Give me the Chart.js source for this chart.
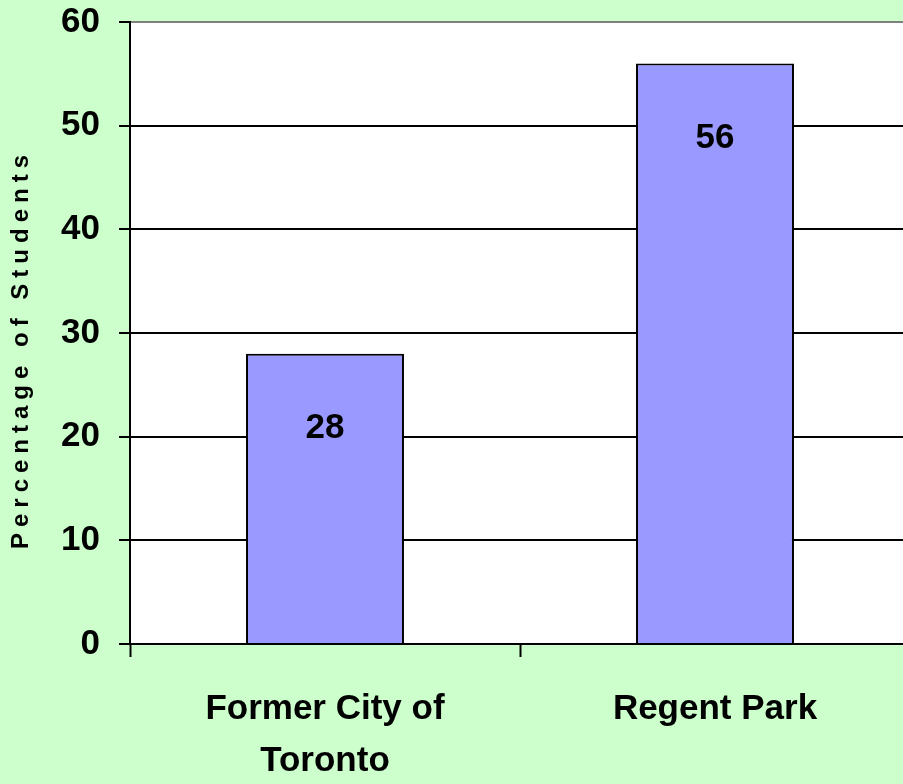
<!DOCTYPE html>
<html><head><meta charset="utf-8">
<script src="https://cdn.jsdelivr.net/npm/chart.js@4/dist/chart.umd.min.js"></script>
<style>
html,body{margin:0;padding:0;background:#CCFFCC;overflow:hidden;}
#wrap{width:920px;height:784px;}
canvas{display:block;}
</style></head><body>
<div id="wrap"><canvas id="c" width="920" height="784"></canvas></div>
<script>
const categories = [["Former City of", "Toronto"], ["Regent Park"]];
const values = [28, 56];
const yMin = 0, yMax = 60, yStep = 10;
const yTitle = "Percentage of Students";

const FONT = "'Liberation Sans', Arial, sans-serif";

const plotBackground = {
  id: 'plotBackground',
  beforeDraw(chart) {
    const { ctx, chartArea } = chart;
    ctx.save();
    ctx.fillStyle = '#FFFFFF';
    ctx.fillRect(chartArea.left, chartArea.top, chartArea.right - chartArea.left, chartArea.bottom - chartArea.top);
    ctx.restore();
  }
};

const valueLabels = {
  id: 'valueLabels',
  afterDatasetsDraw(chart) {
    const ctx = chart.ctx;
    const meta = chart.getDatasetMeta(0);
    ctx.save();
    ctx.font = "bold 35px " + FONT;
    ctx.fillStyle = '#000';
    ctx.textAlign = 'center';
    ctx.textBaseline = 'middle';
    meta.data.forEach((el, i) => {
      ctx.fillText(String(values[i]), el.x, el.y + 75);
    });
    ctx.restore();
  }
};

const spacedTitle = {
  id: 'spacedTitle',
  afterLayout(chart) {
    const s = chart.scales.y;
    if (s && !s._wrapped) {
      const orig = s.drawTitle.bind(s);
      s.drawTitle = function (area) {
        const ctx = chart.ctx;
        ctx.save();
        ctx.letterSpacing = '6px';
        ctx.translate(0, 16);
        orig(area);
        ctx.restore();
      };
      s._wrapped = true;
    }
  }
};

new Chart(document.getElementById('c'), {
  type: 'bar',
  data: {
    labels: categories,
    datasets: [{
      data: values,
      backgroundColor: '#9999FF',
      borderColor: '#000000',
      borderWidth: 2,
      barPercentage: 0.405,
      categoryPercentage: 1.0
    }]
  },
  options: {
    responsive: false,
    animation: false,
    devicePixelRatio: 1,
    layout: { padding: { top: 22, right: 10, left: 0, bottom: 0 } },
    plugins: { legend: { display: false }, tooltip: { enabled: false } },
    scales: {
      x: {
        afterFit(scale) { scale.height = 140; scale.paddingLeft = 0; scale.paddingRight = 0; },
        grid: {
          offset: true,
          drawOnChartArea: false,
          drawTicks: true,
          tickLength: 13,
          tickWidth: 2,
          tickColor: '#000'
        },
        border: { display: true, color: '#000', width: 2 },
        ticks: {
          color: '#000',
          padding: 26,
          maxRotation: 0,
          autoSkip: false,
          font: { family: FONT, size: 35, weight: 'bold', lineHeight: 1.49 }
        }
      },
      y: {
        min: yMin, max: yMax,
        afterFit(scale) { scale.width = 130; scale.paddingTop = 0; scale.paddingBottom = 0; },
        grid: {
          color: (c) => (c.tick && c.tick.value === yMax) ? '#808080' : '#000',
          lineWidth: 2,
          drawTicks: true,
          tickLength: 11,
          tickColor: '#000',
          tickWidth: 2
        },
        border: { display: true, color: '#000', width: 2 },
        ticks: {
          stepSize: yStep,
          color: '#000',
          padding: 19,
          font: { family: FONT, size: 35, weight: 'bold' }
        },
        title: {
          display: true,
          text: yTitle,
          color: '#000',
          padding: { top: 7, bottom: 0 },
          font: { family: FONT, size: 24, weight: 'bold', lineHeight: 1.2 }
        }
      }
    }
  },
  plugins: [plotBackground, valueLabels, spacedTitle]
});
</script>
</body></html>
